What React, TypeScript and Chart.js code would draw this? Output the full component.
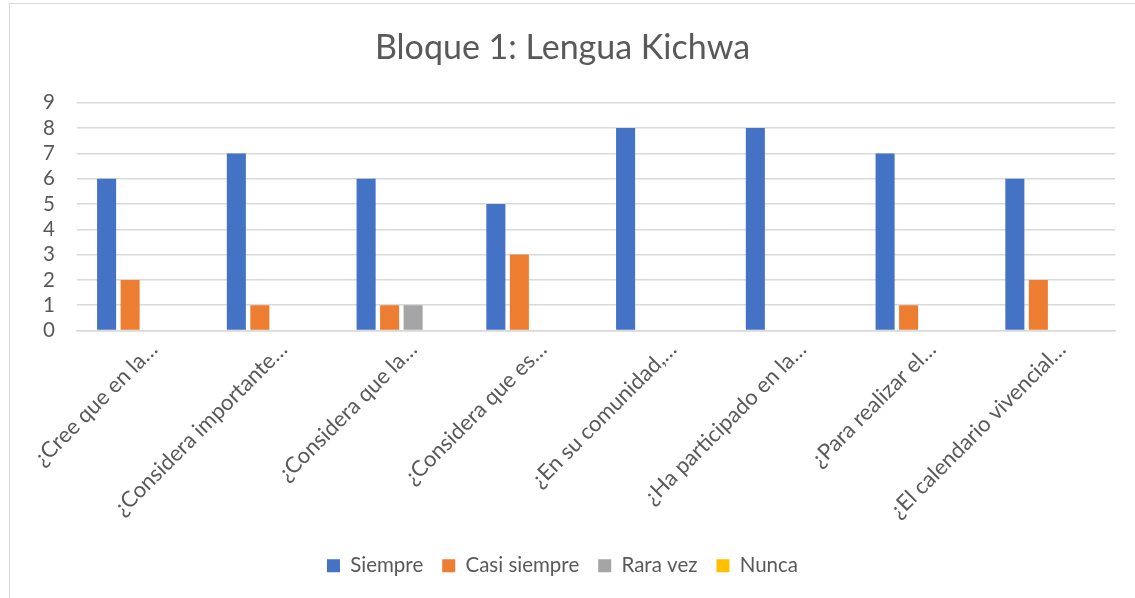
import React, { useEffect, useRef } from "react";
import { Chart, registerables } from "chart.js";

Chart.register(...registerables);

const title = "Bloque 1: Lengua Kichwa";
const categories = [
  "¿Cree que en la…",
  "¿Considera importante…",
  "¿Considera que la…",
  "¿Considera que es…",
  "¿En su comunidad,…",
  "¿Ha participado en la…",
  "¿Para realizar el…",
  "¿El calendario vivencial…",
];
const seriesNames = ["Siempre", "Casi siempre", "Rara vez", "Nunca"];
const siempre = [6, 7, 6, 5, 8, 8, 7, 6];
const casiSiempre = [2, 1, 1, 3, 0, 0, 1, 2];
const raraVez = [0, 0, 1, 0, 0, 0, 0, 0];
const nunca = [0, 0, 0, 0, 0, 0, 0, 0];
const yMin = 0;
const yMax = 9;
const yStep = 1;

const colors = ["#4472C4", "#ED7D31", "#A5A5A5", "#FFC000"];
const FONT = 'Lato, "Open Sans", sans-serif';
const TEXT = "#595959";

export default function App() {
  const ref = useRef<HTMLCanvasElement | null>(null);

  useEffect(() => {
    document.body.style.margin = "0";
    const canvas = ref.current;
    if (!canvas) return;
    const values = [siempre, casiSiempre, raraVez, nunca];
    const chart = new Chart(canvas, {
      type: "bar",
      data: {
        labels: categories,
        datasets: seriesNames.map((name, i) => ({
          label: name,
          data: values[i],
          backgroundColor: colors[i],
          borderWidth: 0,
          categoryPercentage: 0.725,
          barPercentage: 0.81,
        })),
      },
      options: {
        responsive: false,
        animation: false,
        devicePixelRatio: 1,
        layout: { padding: { left: 10, right: 20, top: 4, bottom: 12 } },
        plugins: {
          title: {
            display: true,
            text: title,
            color: TEXT,
            font: { family: FONT, size: 34, weight: "normal" },
            padding: { top: 24, bottom: 34 },
          },
          legend: {
            position: "bottom",
            labels: {
              color: TEXT,
              font: { family: FONT, size: 20.5 },
              boxWidth: 13,
              boxHeight: 13,
              padding: 19,
            },
          },
          tooltip: { enabled: false },
        },
        scales: {
          x: {
            grid: { display: false, drawTicks: false },
            border: { display: true, color: "#D9D9D9", width: 1.5 },
            ticks: {
              color: TEXT,
              font: { family: FONT, size: 22 },
              minRotation: 45,
              maxRotation: 45,
              autoSkip: false,
              padding: 6,
              labelOffset: 12,
            },
            afterFit: (scale: any) => {
              scale.height = 206;
            },
          },
          y: {
            min: yMin,
            max: yMax,
            grid: { color: "#D9D9D9", lineWidth: 1.5, drawTicks: false },
            border: { display: false },
            ticks: {
              stepSize: yStep,
              autoSkip: false,
              color: TEXT,
              font: { family: FONT, size: 20.5 },
              padding: 22,
            },
            afterFit: (scale: any) => {
              scale.width = 67;
            },
          },
        },
      },
    });
    return () => chart.destroy();
  }, []);

  return (
    <div style={{ position: "relative", width: 1135, height: 598, overflow: "hidden", background: "#fff" }}>
      <div
        style={{
          position: "absolute",
          left: 9,
          top: 3,
          width: 1140,
          height: 620,
          border: "1px solid #D9D9D9",
          boxSizing: "border-box",
        }}
      />
      <canvas ref={ref} width={1135} height={598} style={{ position: "absolute", left: 0, top: 0 }} />
    </div>
  );
}
